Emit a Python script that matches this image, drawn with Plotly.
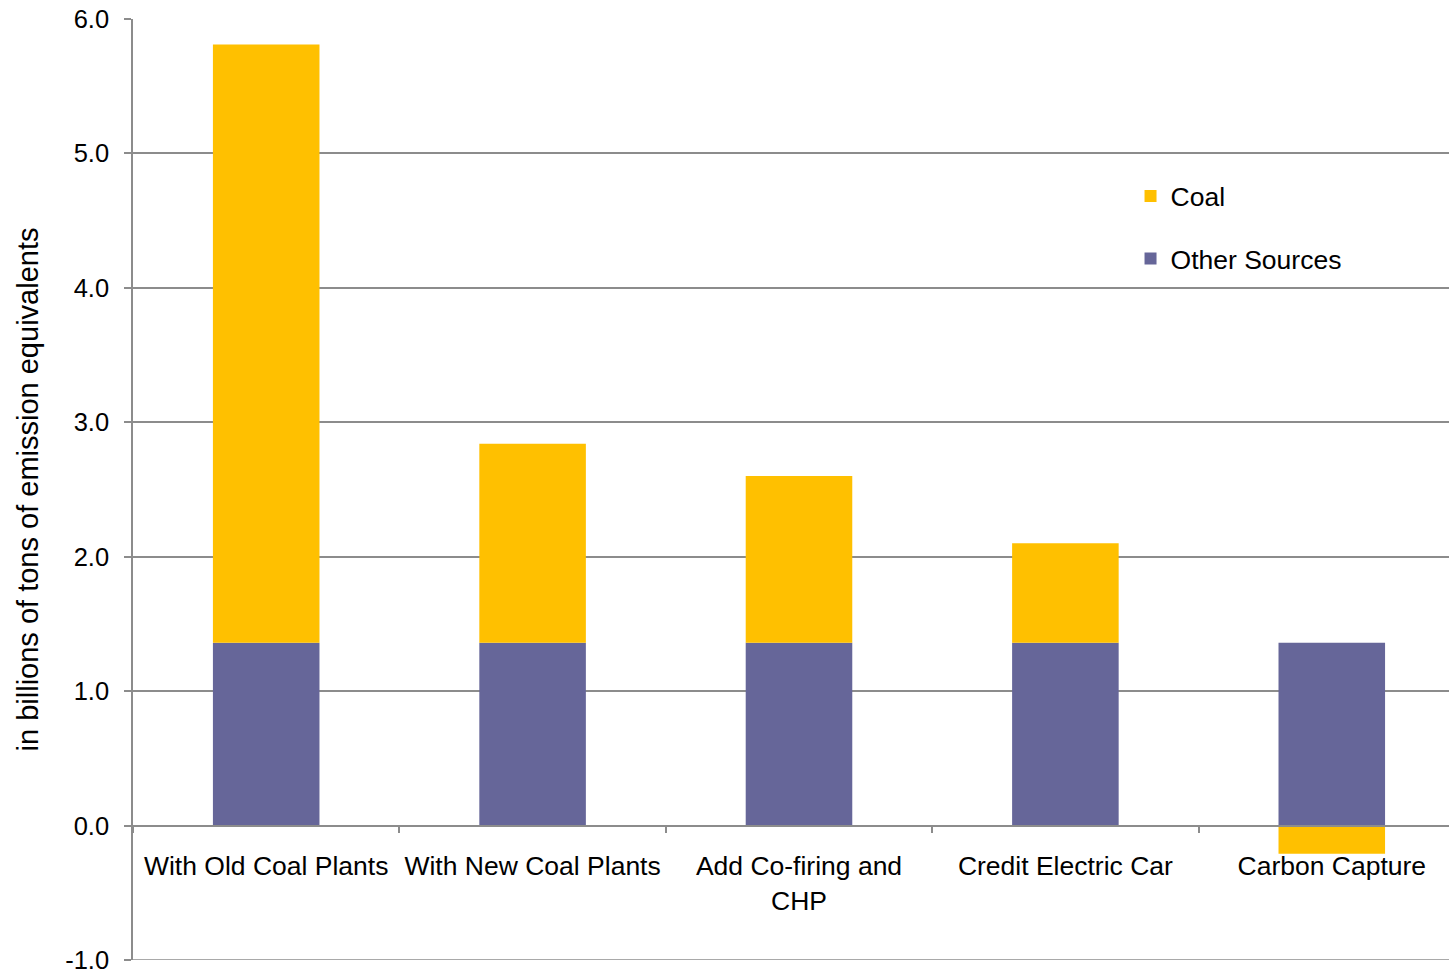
import plotly.graph_objects as go

# Emission scenarios (billions of tons of emission equivalents)
categories = ["With Old Coal Plants", "With New Coal Plants", "Add Co-firing and CHP",
              "Credit Electric Car", "Carbon Capture"]
category_labels = ["With Old Coal Plants", "With New Coal Plants", "Add Co-firing and<br>CHP",
                   "Credit Electric Car", "Carbon Capture"]
other_sources = [1.36, 1.36, 1.36, 1.36, 1.36]
coal = [4.45, 1.48, 1.24, 0.74, -0.21]
y_ticks = [-1.0, 0.0, 1.0, 2.0, 3.0, 4.0, 5.0, 6.0]
y_tick_text = [f"{v:.1f}" for v in y_ticks]

FONT = "Liberation Sans, Arial, sans-serif"
GRID = "#8c8c8c"
FS = 26.5

fig = go.Figure()
fig.add_trace(go.Bar(x=categories, y=other_sources, name="Other Sources",
                     marker=dict(color="#666699", line=dict(width=0)),
                     width=0.4, legendgroup="o", legendrank=2))
fig.add_trace(go.Bar(x=categories, y=coal, name="Coal",
                     marker=dict(color="#FFC000", line=dict(width=0)),
                     width=0.4, legendgroup="c", legendrank=1))

# bottom gridline at the lowest tick
fig.add_shape(type="line", xref="paper", yref="y", x0=0, x1=1,
              y0=y_ticks[0], y1=y_ticks[0], line=dict(color=GRID, width=1.5), layer="below")

fig.update_layout(
    width=1449, height=972,
    margin=dict(l=133, r=0, t=19, b=12, autoexpand=False),
    barmode="relative",
    plot_bgcolor="white", paper_bgcolor="white",
    font=dict(family=FONT, size=FS, color="black"),
    legend=dict(x=0.758, y=0.837, xanchor="left", yanchor="top",
                tracegroupgap=25, bgcolor="rgba(0,0,0,0)",
                font=dict(size=FS)),
    xaxis=dict(
        type="category", range=[-0.5, 4.44], automargin=False,
        tickmode="array", tickvals=categories, ticktext=category_labels,
        tickson="boundaries", ticks="outside", ticklen=7, tickcolor=GRID, tickwidth=1.5,
        showline=True, linecolor=GRID, linewidth=1.5,
        showgrid=False, anchor="free", position=1/7,
        tickfont=dict(size=FS), ticklabelstandoff=17,
    ),
    yaxis=dict(
        range=[-1, 6], tickmode="array", tickvals=y_ticks, ticktext=y_tick_text,
        automargin=False,
        ticks="outside", ticklen=7, tickcolor=GRID, tickwidth=1.5,
        showline=True, linecolor=GRID, linewidth=1.5,
        showgrid=True, gridcolor=GRID, gridwidth=1.5,
        zeroline=False, ticklabelstandoff=10, ticklabeloverflow="allow",
        tickfont=dict(size=25.5),
        title=dict(text="in billions of tons of emission equivalents", standoff=18,
                   font=dict(size=29)),
    ),
)

fig.write_html("out.html")
